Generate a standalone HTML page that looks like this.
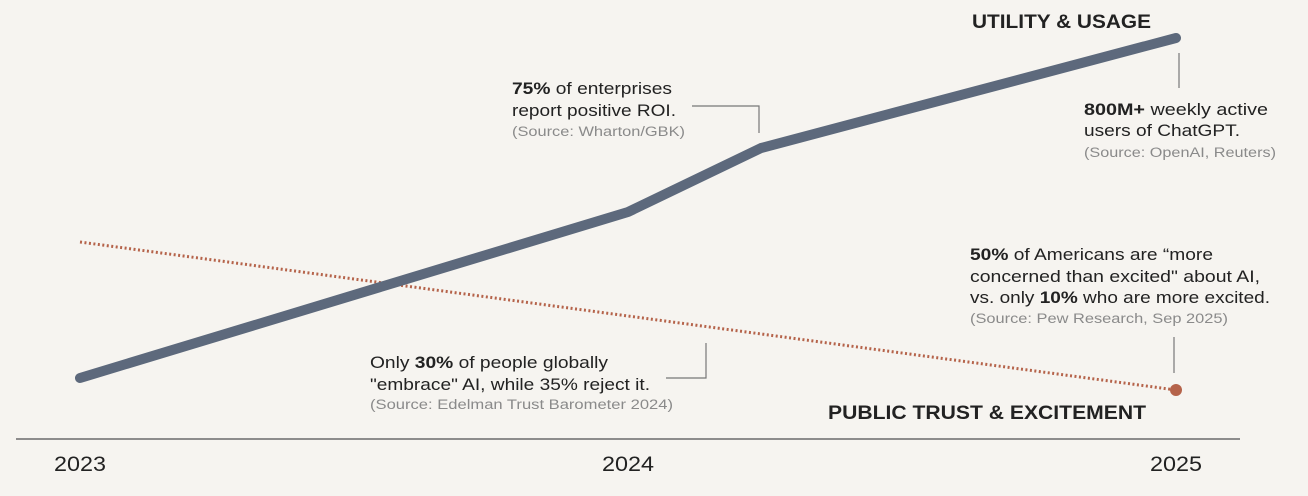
<!DOCTYPE html>
<html><head><meta charset="utf-8"><style>
html,body{margin:0;padding:0;background:#f6f4f0;}
svg{display:block;font-family:"Liberation Sans",sans-serif;}
</style></head><body>
<svg id="chart" width="1308" height="496" viewBox="0 0 1308 496">
<rect x="0" y="0" width="1308" height="496" fill="#f6f4f0"/>
<line x1="16" y1="439" x2="1240" y2="439" stroke="#6a6a6a" stroke-width="1.5"/>
<g id="marks"></g>
<g fill="#222">
<text x="972" y="28" font-size="19" font-weight="bold" textLength="179" lengthAdjust="spacingAndGlyphs">UTILITY &amp; USAGE</text>
<text x="828" y="419" font-size="19" font-weight="bold" textLength="318" lengthAdjust="spacingAndGlyphs">PUBLIC TRUST &amp; EXCITEMENT</text>

<text x="512" y="94" font-size="17" textLength="160" lengthAdjust="spacingAndGlyphs"><tspan font-weight="bold">75%</tspan> of enterprises</text>
<text x="512" y="116" font-size="17" textLength="164" lengthAdjust="spacingAndGlyphs">report positive ROI.</text>
<text x="512" y="136" font-size="13.5" fill="#8a8a8a" textLength="173" lengthAdjust="spacingAndGlyphs">(Source: Wharton/GBK)</text>

<text x="1084" y="115" font-size="17" textLength="184" lengthAdjust="spacingAndGlyphs"><tspan font-weight="bold">800M+</tspan> weekly active</text>
<text x="1084" y="136" font-size="17" textLength="156" lengthAdjust="spacingAndGlyphs">users of ChatGPT.</text>
<text x="1084" y="157" font-size="13.5" fill="#8a8a8a" textLength="192" lengthAdjust="spacingAndGlyphs">(Source: OpenAI, Reuters)</text>

<text x="970" y="260" font-size="17" textLength="243" lengthAdjust="spacingAndGlyphs"><tspan font-weight="bold">50%</tspan> of Americans are “more</text>
<text x="970" y="282" font-size="17" textLength="290" lengthAdjust="spacingAndGlyphs">concerned than excited" about AI,</text>
<text x="970" y="303" font-size="17" textLength="300" lengthAdjust="spacingAndGlyphs">vs. only <tspan font-weight="bold">10%</tspan> who are more excited.</text>
<text x="970" y="323" font-size="13.5" fill="#8a8a8a" textLength="258" lengthAdjust="spacingAndGlyphs">(Source: Pew Research, Sep 2025)</text>

<text x="370" y="368" font-size="17" textLength="238" lengthAdjust="spacingAndGlyphs">Only <tspan font-weight="bold">30%</tspan> of people globally</text>
<text x="370" y="390" font-size="17" textLength="280" lengthAdjust="spacingAndGlyphs">"embrace" AI, while 35% reject it.</text>
<text x="370" y="409" font-size="13.5" fill="#8a8a8a" textLength="303" lengthAdjust="spacingAndGlyphs">(Source: Edelman Trust Barometer 2024)</text>
</g>
<g fill="none" stroke="#777" stroke-width="1.2">
<polyline points="692,106 759,106 759,133"/>
<line x1="1179" y1="53" x2="1179" y2="88"/>
<line x1="1174" y1="337" x2="1174" y2="373"/>
<polyline points="666,378 706,378 706,343"/>
</g>
<g id="xticks"></g>
</svg>
<script>
const years = ["2023","2024","2025"];
const usageT = [0, 1.0, 1.243, 2];
const usageValues = [15, 56.5, 72.5, 100];
const trustT = [0, 2];
const trustValues = [49, 12];

const NS = "http://www.w3.org/2000/svg";
function xScale(t){ return 80 + t * 548; }
function yScale(v){ return 438 - v * 4; }

const marks = document.getElementById('marks');
const tp = trustT.map((t,i)=>xScale(t)+','+yScale(trustValues[i])).join(' ');
const trust = document.createElementNS(NS,'polyline');
trust.setAttribute('points', tp);
trust.setAttribute('fill','none');
trust.setAttribute('stroke','#b5634a');
trust.setAttribute('stroke-width','3');
trust.setAttribute('stroke-dasharray','2 2.5');


marks.appendChild(trust);

const up = usageT.map((t,i)=>xScale(t)+','+yScale(usageValues[i])).join(' ');
const usage = document.createElementNS(NS,'polyline');
usage.setAttribute('points', up);
usage.setAttribute('fill','none');
usage.setAttribute('stroke','#5d697c');
usage.setAttribute('stroke-width','10');
usage.setAttribute('stroke-linecap','round');
usage.setAttribute('stroke-linejoin','round');


marks.appendChild(usage);

const li = trustT.length-1;
const dot = document.createElementNS(NS,'circle');
dot.setAttribute('cx', xScale(trustT[li]));
dot.setAttribute('cy', yScale(trustValues[li]));
dot.setAttribute('r','6');
dot.setAttribute('fill','#b5634a');


marks.appendChild(dot);

const xt = document.getElementById('xticks');
years.forEach((y,i)=>{
  const t = document.createElementNS(NS,'text');
  t.setAttribute('x', xScale(i));
  t.setAttribute('y', 471);
  t.setAttribute('text-anchor','middle');
  t.setAttribute('font-size','21');
  t.setAttribute('fill','#222');
  t.setAttribute('textLength','52');
  t.setAttribute('lengthAdjust','spacingAndGlyphs');
  t.textContent = y;
  
  
  xt.appendChild(t);
});
</script>
</body></html>
